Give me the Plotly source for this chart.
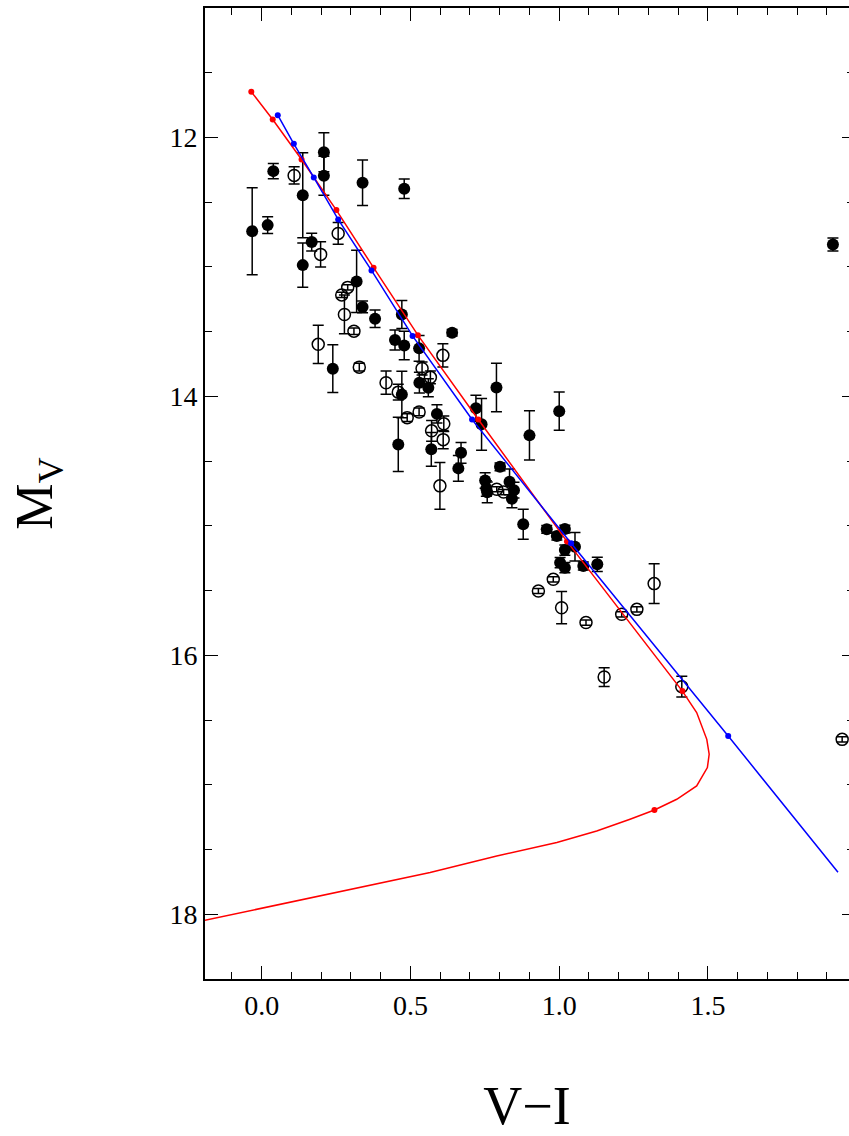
import plotly.graph_objects as go

# Filled circles: V-I, M_V, error in M_V
fx = [-0.032, 0.039, 0.020, 0.138, 0.138, 0.168, 0.209, 0.209, 0.339, 0.479,
      0.319, 0.339, 0.381, 0.239, 0.471, 0.640, 0.448, 0.479, 0.529, 0.530,
      0.560, 0.471, 0.589, 0.459, 0.570, 0.670, 0.661, 0.720, 0.739, 0.789,
      0.900, 1.000, 0.801, 0.751, 0.755, 0.758, 0.833, 0.848, 0.841, 0.879,
      0.958, 0.992, 1.019, 1.053, 1.019, 1.003, 1.019, 1.081, 1.128, 1.920]
fy = [12.724, 12.260, 12.677, 12.446, 12.986, 12.808, 12.114, 12.296, 12.350, 12.396,
      13.112, 13.309, 13.400, 13.786, 13.367, 13.508, 13.565, 13.606, 13.629, 13.894,
      13.933, 13.985, 14.135, 14.371, 14.409, 14.436, 14.556, 14.091, 14.216, 13.931,
      14.301, 14.114, 14.544, 14.649, 14.712, 14.741, 14.660, 14.724, 14.790, 14.988,
      15.027, 15.079, 15.025, 15.161, 15.187, 15.284, 15.323, 15.310, 15.297, 12.826]
fe = [0.336, 0.058, 0.064, 0.328, 0.171, 0.069, 0.150, 0.150, 0.176, 0.076,
      0.240, 0.045, 0.067, 0.184, 0.108, 0.025, 0.077, 0.110, 0.100, 0.080,
      0.070, 0.180, 0.070, 0.210, 0.130, 0.080, 0.100, 0.100, 0.200, 0.187,
      0.190, 0.148, 0.030, 0.060, 0.060, 0.080, 0.100, 0.060, 0.070, 0.116,
      0.030, 0.030, 0.030, 0.110, 0.040, 0.040, 0.040, 0.030, 0.055, 0.050]

# Open circles
ox = [0.109, 0.198, 0.257, 0.289, 0.269, 0.278, 0.310, 0.190, 0.328, 0.609,
      0.539, 0.567, 0.418, 0.459, 0.489, 0.529, 0.571, 0.612, 0.610, 0.599,
      0.790, 0.813, 0.930, 0.980, 1.008, 1.090, 1.210, 1.261, 1.319, 1.151,
      1.412, 1.951]
oy = [12.293, 12.903, 12.741, 13.158, 13.216, 13.367, 13.496, 13.598, 13.774, 13.683,
      13.784, 13.853, 13.894, 13.967, 14.164, 14.120, 14.266, 14.212, 14.334, 14.691,
      14.717, 14.739, 15.503, 15.413, 15.632, 15.747, 15.683, 15.645, 15.446, 16.168,
      16.242, 16.649]
oe = [0.066, 0.097, 0.084, 0.020, 0.020, 0.150, 0.025, 0.148, 0.030, 0.089,
      0.050, 0.050, 0.090, 0.060, 0.030, 0.030, 0.080, 0.060, 0.070, 0.180,
      0.020, 0.020, 0.020, 0.020, 0.125, 0.020, 0.020, 0.020, 0.154, 0.073,
      0.080, 0.020]

# Red isochrone (curve) and its marked points
red_x = [-0.035, 0.037, 0.134, 0.251, 0.376, 0.525, 0.728, 1.026, 1.414,
         1.462, 1.496, 1.504, 1.498, 1.462, 1.395, 1.320, 1.238, 1.126,
         0.992, 0.790, 0.566, 0.196, -0.191, -0.250]
red_y = [11.647, 11.861, 12.170, 12.561, 13.006, 13.527, 14.178, 15.120, 16.276,
         16.442, 16.649, 16.764, 16.867, 17.009, 17.112, 17.195, 17.266, 17.357,
         17.446, 17.550, 17.678, 17.857, 18.046, 18.075]
red_mx = [-0.035, 0.037, 0.134, 0.251, 0.376, 0.525, 0.728, 1.026, 1.414, 1.320]
red_my = [11.647, 11.861, 12.170, 12.561, 13.006, 13.527, 14.178, 15.120, 16.276, 17.195]

# Blue isochrone and its marked points
blue_x = [0.054, 0.108, 0.175, 0.257, 0.369, 0.507, 0.707, 1.040, 1.568, 1.937]
blue_y = [11.828, 12.049, 12.309, 12.633, 13.027, 13.533, 14.178, 15.135, 16.623, 17.676]
blue_mx = blue_x[:-1]
blue_my = blue_y[:-1]

FONT = "Liberation Serif"
XR = [-0.1906, 1.974]
YR = [18.5, 11.0]

fig = go.Figure()

fig.add_trace(go.Scatter(
    x=fx, y=fy, mode="markers",
    marker=dict(symbol="circle", size=12, color="black"),
    error_y=dict(type="data", array=fe, visible=True, color="black",
                 thickness=1.5, width=5.5),
    showlegend=False, hoverinfo="skip"))

fig.add_trace(go.Scatter(
    x=ox, y=oy, mode="markers",
    marker=dict(symbol="circle-open", size=12, color="black",
                line=dict(width=1.5, color="black")),
    error_y=dict(type="data", array=oe, visible=True, color="black",
                 thickness=1.5, width=5.5),
    showlegend=False, hoverinfo="skip"))

fig.add_trace(go.Scatter(x=red_x, y=red_y, mode="lines",
                         line=dict(color="red", width=1.5),
                         showlegend=False, hoverinfo="skip"))
fig.add_trace(go.Scatter(x=red_mx, y=red_my, mode="markers",
                         marker=dict(color="red", size=6),
                         showlegend=False, hoverinfo="skip"))
fig.add_trace(go.Scatter(x=blue_x, y=blue_y, mode="lines",
                         line=dict(color="blue", width=1.5),
                         showlegend=False, hoverinfo="skip"))
fig.add_trace(go.Scatter(x=blue_mx, y=blue_my, mode="markers",
                         marker=dict(color="blue", size=6),
                         showlegend=False, hoverinfo="skip"))
# carrier for the right-hand tick axis
fig.add_trace(go.Scatter(x=[None], y=[None], yaxis="y2", showlegend=False,
                         hoverinfo="skip"))

fig.update_layout(
    width=849, height=1136,
    margin=dict(l=205, r=0, t=8, b=157),
    paper_bgcolor="white", plot_bgcolor="white",
    font=dict(family=FONT, color="black", size=28),
    xaxis=dict(range=XR, showline=True, linewidth=2, linecolor="black",
               mirror="ticks", ticks="inside", ticklen=13, tickwidth=1.3,
               tickcolor="black", tick0=0, dtick=0.5, tickformat=".1f",
               minor=dict(dtick=0.1, ticklen=7, ticks="inside", tickwidth=1.3,
                          tickcolor="black"),
               showgrid=False, zeroline=False,
               tickfont=dict(family=FONT, size=28),
               title=dict(text="V\u2212I", font=dict(family=FONT, size=54),
                          standoff=69)),
    yaxis=dict(range=YR, showline=True, linewidth=2, linecolor="black",
               mirror=False, ticks="inside", ticklen=13, tickwidth=1.3,
               tickcolor="black", tick0=12, dtick=2,
               minor=dict(dtick=0.5, ticklen=7, ticks="inside", tickwidth=1.3,
                          tickcolor="black"),
               showgrid=False, zeroline=False,
               tickfont=dict(family=FONT, size=28),
               title=dict(text="M<sub>V</sub>", font=dict(family=FONT, size=52),
                          standoff=100)),
    yaxis2=dict(range=YR, overlaying="y", side="right", showline=False,
                ticks="inside", ticklen=7, tickwidth=1.3, tickcolor="black",
                tick0=12, dtick=2, showticklabels=False,
                minor=dict(dtick=0.5, ticklen=2, ticks="inside", tickwidth=1.3,
                           tickcolor="black"),
                showgrid=False, zeroline=False),
)

fig.write_html("out.html",
               config={"displayModeBar": False},
               post_script="document.body.style.margin='0px';"
                           "document.body.style.overflow='hidden';")
